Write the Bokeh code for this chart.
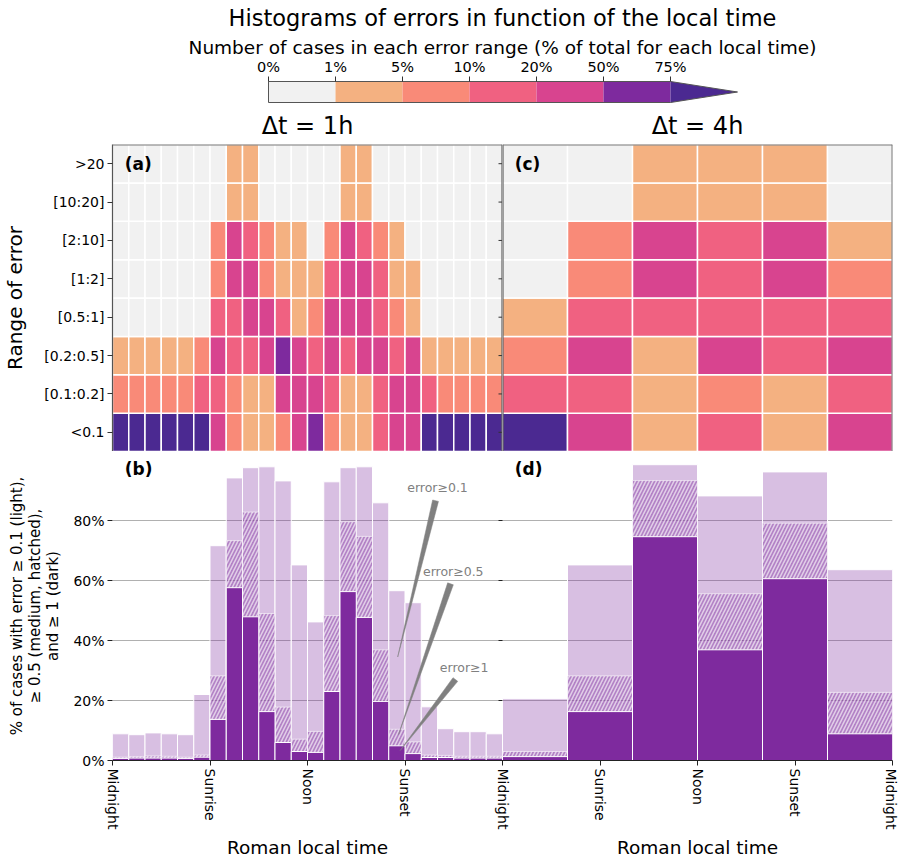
import math
from bokeh.plotting import figure
from bokeh.layouts import column, row
from bokeh.models import Range1d, FixedTicker, Label, Span, LinearAxis
from bokeh.core.properties import value
from bokeh.embed import file_html
from bokeh.resources import INLINE

FONT = "DejaVu Sans"

# ---------------- data ----------------
level_colors = ["#f1f1f1", "#f4b181", "#f98a78", "#f06181", "#d8448f", "#7e2a9e", "#4b2991"]
cbar_labels = ["0%", "1%", "5%", "10%", "20%", "50%", "75%"]
error_ranges = ["<0.1", "[0.1:0.2]", "[0.2:0.5]", "[0.5:1]", "[1:2]", "[2:10]", "[10:20]", ">20"]
time_ticks = [0, 6, 12, 18, 24]
time_labels = ["Midnight", "Sunrise", "Noon", "Sunset", "Midnight"]
pct_ticks = [0, 20, 40, 60, 80]
xlabel_text = "Roman local time"
PURPLE = "#7e2a9e"

# colour class of each cell (index into level_colors); rows from "<0.1" up to ">20"
heat_1h = [
    [6, 6, 6, 6, 6, 6, 4, 2, 1, 1, 2, 4, 5, 2, 1, 1, 3, 4, 4, 6, 6, 6, 6, 6],
    [2, 2, 2, 2, 2, 3, 3, 2, 1, 1, 4, 4, 4, 3, 1, 1, 3, 4, 4, 3, 2, 2, 2, 2],
    [1, 1, 1, 1, 1, 2, 4, 3, 3, 4, 5, 4, 3, 4, 3, 4, 4, 3, 4, 1, 1, 1, 1, 1],
    [0, 0, 0, 0, 0, 0, 3, 3, 4, 4, 3, 1, 2, 4, 4, 4, 3, 2, 1, 0, 0, 0, 0, 0],
    [0, 0, 0, 0, 0, 0, 2, 4, 4, 2, 1, 1, 1, 3, 4, 4, 3, 1, 1, 0, 0, 0, 0, 0],
    [0, 0, 0, 0, 0, 0, 2, 4, 3, 2, 1, 1, 0, 2, 4, 3, 2, 1, 0, 0, 0, 0, 0, 0],
    [0, 0, 0, 0, 0, 0, 0, 1, 1, 0, 0, 0, 0, 0, 1, 1, 0, 0, 0, 0, 0, 0, 0, 0],
    [0, 0, 0, 0, 0, 0, 0, 1, 1, 0, 0, 0, 0, 0, 1, 1, 0, 0, 0, 0, 0, 0, 0, 0],
]
heat_4h = [
    [6, 4, 1, 3, 1, 4],
    [3, 3, 1, 2, 1, 3],
    [2, 4, 1, 4, 3, 4],
    [1, 3, 3, 3, 3, 3],
    [0, 2, 4, 3, 4, 2],
    [0, 2, 4, 3, 4, 1],
    [0, 0, 1, 1, 1, 0],
    [0, 0, 1, 1, 1, 0],
]

# % of cases with error >= 0.1, >= 0.5, >= 1
ge01_1h = [8.9, 8.6, 9.2, 8.9, 8.6, 22.0, 71.6, 94.2, 97.6, 97.9, 93.2, 65.2,
           46.2, 92.9, 97.6, 97.9, 85.9, 56.6, 52.6, 17.9, 10.6, 9.6, 9.6, 8.9]
ge05_1h = [1.1, 1.3, 1.5, 1.4, 1.1, 1.8, 28.2, 73.3, 82.8, 49.0, 17.8, 7.1,
           9.7, 48.3, 79.6, 74.7, 36.9, 10.4, 6.2, 1.8, 1.7, 1.4, 1.4, 1.4]
ge1_1h = [0.7, 0.8, 0.8, 0.8, 0.7, 1.1, 13.7, 57.6, 47.9, 16.3, 6.0, 3.0,
          2.7, 23.0, 56.3, 47.7, 19.7, 4.9, 2.3, 1.0, 1.0, 0.8, 0.8, 0.8]
ge01_4h = [20.6, 65.2, 98.6, 88.2, 96.2, 63.6]
ge05_4h = [3.0, 28.2, 93.3, 55.6, 79.1, 22.7]
ge1_4h = [1.3, 16.3, 74.6, 36.9, 60.6, 8.9]

ann_texts = ["error\u22650.1", "error\u22650.5", "error\u22651"]
ann_text_x = [20.0, 20.97, 21.64]
ann_text_y = [91.1, 63.1, 31.1]
ann_tail_x = [19.88, 20.8, 21.1]
ann_tail_y = [86.6, 58.9, 27.0]
ann_tip_x = [17.55, 17.6, 17.7]
ann_tip_y = [34.5, 8.6, 3.3]

# ---------------- layout constants ----------------
LEFT_B = 112
FRAME_W = 390
RIGHT_B = 6
HDR_H = 104
HEAT_TOP = 37
HEAT_FRAME = 310
BAR_FRAME = 310
BAR_BOTTOM = 99
Y_MAX = 103.0
TOTAL_W = LEFT_B + 2 * FRAME_W + RIGHT_B


def style_text_axis(ax, size="14px"):
    ax.major_label_text_font = FONT
    ax.major_label_text_font_size = size
    ax.major_label_text_color = "black"
    ax.axis_label_text_font = FONT
    ax.axis_label_text_font_style = "normal"
    ax.axis_label_text_color = "black"
    ax.minor_tick_line_color = None


# ---------------- header (title + colour bar) ----------------
px_per_bin = 67.0
x0_page = 268.0
hdr = figure(width=TOTAL_W, height=HDR_H,
             x_range=Range1d((LEFT_B - x0_page) / px_per_bin,
                             (LEFT_B + 2 * FRAME_W - x0_page) / px_per_bin),
             y_range=Range1d(HDR_H, 0), toolbar_location=None, output_backend="svg",
             min_border_left=LEFT_B, min_border_right=RIGHT_B, min_border_top=0,
             min_border_bottom=0)
hdr.axis.visible = False
hdr.grid.visible = False
hdr.outline_line_color = None
mid = (LEFT_B + FRAME_W - x0_page) / px_per_bin
hdr.add_layout(Label(x=mid, y=17, text="Histograms of errors in function of the local time",
                     text_font=FONT, text_font_size="22.5px", text_align="center",
                     text_baseline="middle", text_color="black"))
hdr.add_layout(Label(x=mid, y=47,
                     text="Number of cases in each error range (% of total for each local time)",
                     text_font=FONT, text_font_size="18.5px", text_align="center",
                     text_baseline="middle", text_color="black"))
nb = len(cbar_labels)
bins = list(range(nb))
hdr.text(x=bins, y=[66] * nb, text=cbar_labels, text_font=value(FONT), text_font_size="14.5px",
         text_align="center", text_baseline="middle", text_color="black")
hdr.quad(left=bins[:-1], right=bins[1:], top=[81] * (nb - 1), bottom=[102] * (nb - 1),
         fill_color=level_colors[:nb - 1], line_color=None)
hdr.patch(x=[nb - 1, nb, nb - 1], y=[81, 91.5, 102], fill_color=level_colors[-1], line_color=None)
hdr.line(x=[0, nb - 1, nb, nb - 1, 0, 0], y=[81, 81, 91.5, 102, 102, 81], line_color="#555555",
         line_width=1)
hdr.segment(x0=bins, y0=[76] * nb, x1=bins, y1=[81] * nb, line_color="#333333", line_width=1)


# ---------------- heatmaps ----------------
row_ticks = [j + 0.5 for j in range(len(error_ranges))]


def heat_panel(grid, title, letter, left, right, with_axis):
    ncol = len(grid[0])
    w = 24.0 / ncol
    xs, ys, cs = [], [], []
    for j, rowv in enumerate(grid):
        for i, lv in enumerate(rowv):
            xs.append((i + 0.5) * w)
            ys.append(j + 0.5)
            cs.append(level_colors[lv])
    p = figure(width=left + FRAME_W + right, height=HEAT_TOP + HEAT_FRAME,
               x_range=Range1d(0, 24), y_range=Range1d(0, 8),
               toolbar_location=None, output_backend="svg", min_border_top=HEAT_TOP,
               min_border_bottom=0, min_border_left=left, min_border_right=right, title=title)
    p.title.align = "center"
    p.title.text_font = FONT
    p.title.text_font_size = "24px"
    p.title.text_font_style = "normal"
    p.title.text_color = "black"
    p.rect(x=xs, y=ys, width=w, height=1, fill_color=cs, line_color="white", line_width=1.5)
    p.grid.visible = False
    p.xaxis.visible = False
    p.outline_line_color = None
    if with_axis:
        ax = p.yaxis[0]
        ax.ticker = FixedTicker(ticks=row_ticks)
        ax.major_label_overrides = {t: lab for t, lab in zip(row_ticks, error_ranges)}
        ax.axis_label = "Range of error"
        style_text_axis(ax)
        ax.axis_label_text_font_size = "20px"
        ax.axis_line_color = "#555555"
        ax.axis_line_width = 1.2
        ax.major_tick_out = 5
        ax.major_tick_in = 0
        ax.major_tick_line_color = "#333333"
        ax.major_label_standoff = 3
        ax.axis_label_standoff = 14
        # ticks of the right-hand panel's axis, pointing into this panel
        p.ray(x=[24] * len(row_ticks), y=row_ticks, length=4, length_units="screen",
              angle=math.pi, line_color="#333333", line_width=1)
        p.add_layout(Span(location=24, dimension="height", line_color="#444444", line_width=2))
    else:
        p.yaxis.visible = False
        p.add_layout(Span(location=0, dimension="height", line_color="#444444", line_width=2))
        p.add_layout(Span(location=24, dimension="height", line_color="#777777", line_width=2))
    p.add_layout(Span(location=8, dimension="width", line_color="#777777", line_width=2))
    p.add_layout(Label(x=0.75, y=7.5, text=letter, text_font=FONT, text_font_size="17px",
                       text_font_style="bold", text_baseline="middle", text_color="black"))
    return p


pa = heat_panel(heat_1h, "\u0394t = 1h", "(a)", LEFT_B, 0, True)
pc = heat_panel(heat_4h, "\u0394t = 4h", "(c)", 0, RIGHT_B, False)


# ---------------- bar panels (both Δt side by side on one time axis) ----------------
def wedge(p, x0, y0, x1, y1, sx, sy, hw=3.0):
    dx = (x1 - x0) * sx
    dy = (y1 - y0) * sy
    L = math.hypot(dx, dy)
    nx, ny = -dy / L, dx / L
    xs = [x0 + nx * hw / sx, x0 - nx * hw / sx, x1]
    ys = [y0 + ny * hw / sy, y0 - ny * hw / sy, y1]
    p.patch(x=xs, y=ys, fill_color="#808080", line_color="#808080", line_width=0.5)


pb = figure(width=TOTAL_W, height=BAR_FRAME + BAR_BOTTOM, x_range=Range1d(0, 48),
            y_range=Range1d(0, Y_MAX), toolbar_location=None, output_backend="svg",
            min_border_top=0, min_border_bottom=BAR_BOTTOM, min_border_left=LEFT_B,
            min_border_right=RIGHT_B)
pb.outline_line_color = None
pb.xgrid.visible = False
pb.ygrid.ticker = FixedTicker(ticks=pct_ticks[1:])
pb.ygrid.grid_line_color = "#b0b0b0"
pb.ygrid.grid_line_width = 1


def draw_bars(p, offset, ge01, ge05, ge1):
    n = len(ge01)
    w = 24.0 / n
    xc = [offset + (i + 0.5) * w for i in range(n)]
    p.vbar(x=xc, width=w, top=ge01, bottom=0, fill_color=PURPLE, fill_alpha=0.3,
           line_color="white", line_width=1)
    p.vbar(x=xc, width=w, top=ge05, bottom=0, fill_color=PURPLE, fill_alpha=0.42,
           hatch_pattern="/", hatch_color="white", hatch_alpha=0.6, hatch_scale=7,
           hatch_weight=1.6, line_color="white", line_alpha=0.6, line_width=1)
    p.vbar(x=xc, width=w, top=ge1, bottom=0, fill_color=PURPLE, fill_alpha=1.0,
           line_color="white", line_width=1)


draw_bars(pb, 0, ge01_1h, ge05_1h, ge1_1h)
draw_bars(pb, 24, ge01_4h, ge05_4h, ge1_4h)

all_ticks = time_ticks + [24 + t for t in time_ticks[1:]]
all_labels = time_labels + time_labels[1:]
xa = pb.xaxis[0]
xa.ticker = FixedTicker(ticks=all_ticks)
xa.major_label_overrides = {t: lab for t, lab in zip(all_ticks, all_labels)}
xa.major_label_orientation = "vertical"
style_text_axis(xa)
xa.axis_line_color = "#222222"
xa.axis_line_width = 1.2
xa.major_tick_out = 5
xa.major_tick_in = 0
xa.major_tick_line_color = "#222222"
xa.major_label_standoff = 3

# one "Roman local time" caption centred under each panel
xlabel_pos = [12, 36]
xa2 = LinearAxis(ticker=FixedTicker(ticks=xlabel_pos),
                 major_label_overrides={t: xlabel_text for t in xlabel_pos},
                 major_tick_line_color=None, major_tick_out=0, major_tick_in=0,
                 minor_tick_line_color=None, axis_line_color=None,
                 major_label_text_font=FONT, major_label_text_font_size="18.5px",
                 major_label_text_color="black", major_label_standoff=4)
pb.add_layout(xa2, "below")

ya = pb.yaxis[0]
ya.ticker = FixedTicker(ticks=pct_ticks)
ya.major_label_overrides = {t: "%d%%" % t for t in pct_ticks}
ya.axis_label = ("% of cases with error \u2265 0.1 (light),\n"
                 "\u2265 0.5 (medium, hatched),\nand \u2265 1 (dark)")
style_text_axis(ya)
ya.axis_label_text_font_size = "15px"
ya.axis_label_text_line_height = 1.0
ya.axis_line_color = None
ya.major_tick_out = 5
ya.major_tick_in = 0
ya.major_tick_line_color = "#222222"
ya.major_label_standoff = 3
ya.axis_label_standoff = 8

# ticks of the right-hand panel's own y axis
pb.ray(x=[24] * len(pct_ticks), y=pct_ticks, length=4, length_units="screen",
       angle=math.pi, line_color="#222222", line_width=1)

for lx, letter in zip([0.75, 24.75], ["(b)", "(d)"]):
    pb.add_layout(Label(x=lx, y=97.2, text=letter, text_font=FONT, text_font_size="17px",
                        text_font_style="bold", text_baseline="middle", text_color="black"))

sx = 2 * FRAME_W / 48.0
sy = BAR_FRAME / Y_MAX
for t, tx, ty, ax0, ay0, ax1, ay1 in zip(ann_texts, ann_text_x, ann_text_y, ann_tail_x,
                                         ann_tail_y, ann_tip_x, ann_tip_y):
    wedge(pb, ax0, ay0, ax1, ay1, sx, sy)
    pb.add_layout(Label(x=tx, y=ty, text=t, text_font=FONT, text_font_size="12.5px",
                        text_align="center", text_baseline="middle", text_color="#808080"))

layout = column(hdr, row(pa, pc), pb)
open("out.html", "w").write(file_html(layout, INLINE))
